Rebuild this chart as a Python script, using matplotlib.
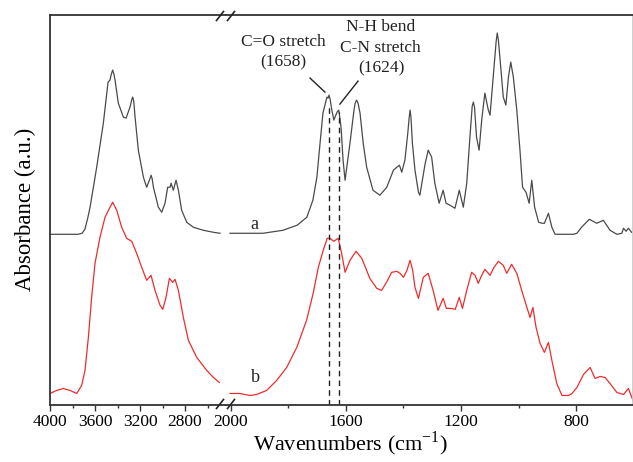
import matplotlib
matplotlib.use("Agg")
import matplotlib.pyplot as plt
from matplotlib.lines import Line2D

plt.rcParams['font.family'] = ['Liberation Serif', 'DejaVu Serif']
plt.rcParams['mathtext.fontset'] = 'custom'
plt.rcParams['mathtext.rm'] = 'Liberation Serif'

# spectrum a (black), high wavenumber part
a_hi_wn = [4000, 3750, 3715, 3690, 3665, 3644, 3585, 3526, 3484, 3467, 3455, 3443, 3432,
           3422, 3393, 3348, 3324, 3289, 3272, 3265, 3256, 3244, 3215, 3170, 3141, 3110,
           3102, 3093, 3081, 3037, 3007, 2978, 2954, 2933, 2924, 2904, 2880, 2859, 2830,
           2785, 2726, 2637, 2548, 2489]
a_hi_abs = [170, 170, 171, 175, 186, 197, 237, 281, 322, 324, 330, 334, 330,
            324, 301, 287, 286, 297, 305, 307, 303, 287, 254, 227, 217, 226,
            229, 226, 217, 197, 192, 201, 217, 217, 221, 214, 224, 214, 194,
            182, 177, 174, 172, 171]

# spectrum a (black), low wavenumber part
a_lo_wn = [2003, 1889, 1819, 1770, 1736, 1715, 1701, 1690, 1680, 1666, 1662, 1659, 1655,
           1649, 1642, 1631, 1625, 1617, 1610, 1603, 1586, 1572, 1568, 1563, 1558, 1551,
           1540, 1528, 1506, 1482, 1458, 1435, 1423, 1414, 1406, 1395, 1385, 1380, 1377,
           1374, 1369, 1360, 1348, 1343, 1325, 1314, 1302, 1291, 1276, 1262, 1252, 1238,
           1221, 1206, 1192, 1180, 1169, 1161, 1157, 1153, 1146, 1137, 1128, 1117, 1105,
           1099, 1088, 1078, 1074, 1070, 1064, 1053, 1044, 1035, 1027, 1018, 1006, 995,
           986, 974, 963, 954, 944, 930, 918, 910, 896, 884, 873, 809, 797, 781, 754,
           728, 705, 682, 658, 641, 635, 626, 618, 607]
a_lo_abs = [171, 171, 174, 179, 187, 204, 227, 261, 291, 307, 306, 309, 305,
            294, 284, 292, 294, 277, 244, 224, 261, 294, 301, 304, 301, 291,
            261, 237, 214, 209, 217, 234, 237, 239, 232, 244, 271, 287, 294,
            287, 261, 234, 212, 209, 240, 254, 247, 221, 201, 214, 201, 199,
            196, 214, 197, 221, 267, 298, 302, 297, 267, 254, 284, 311, 294,
            289, 327, 362, 371, 364, 344, 307, 299, 327, 342, 327, 294, 254,
            217, 212, 201, 224, 197, 182, 181, 181, 191, 177, 170, 170, 171,
            177, 185, 181, 184, 174, 170, 171, 176, 173, 176, 172]

# spectrum b (red), high wavenumber part
b_hi_wn = [4000, 3941, 3881, 3822, 3763, 3719, 3689, 3659, 3630, 3600, 3556, 3511, 3467,
           3443, 3407, 3363, 3319, 3274, 3230, 3185, 3141, 3102, 3067, 3022, 2998, 2969,
           2939, 2910, 2889, 2859, 2815, 2770, 2696, 2607, 2548, 2495]
b_hi_abs = [11, 14, 16, 14, 11, 19, 34, 67, 107, 141, 167, 187, 197,
            202, 194, 177, 166, 163, 151, 137, 124, 129, 114, 99, 95, 107,
            126, 122, 125, 114, 87, 64, 47, 34, 27, 22]

# spectrum b (red), low wavenumber part
b_lo_wn = [2003, 1969, 1934, 1911, 1876, 1841, 1806, 1771, 1737, 1714, 1696, 1679, 1665,
           1656, 1642, 1627, 1615, 1603, 1586, 1565, 1545, 1517, 1493, 1476, 1459, 1441,
           1423, 1412, 1400, 1388, 1377, 1368, 1360, 1348, 1331, 1314, 1297, 1280, 1262,
           1251, 1234, 1220, 1206, 1195, 1180, 1163, 1151, 1140, 1128, 1117, 1099, 1085,
           1070, 1053, 1041, 1024, 1006, 989, 971, 960, 950, 939, 925, 910, 896, 884,
           867, 849, 826, 814, 797, 774, 751, 734, 716, 699, 682, 658, 635, 618, 602]
b_lo_abs = [11, 11, 9, 10, 14, 24, 37, 57, 84, 111, 137, 154, 166,
            166, 163, 166, 151, 132, 144, 153, 146, 126, 116, 114, 122, 132,
            133, 131, 127, 134, 144, 134, 117, 106, 127, 131, 114, 94, 106,
            96, 96, 95, 107, 96, 114, 132, 129, 121, 129, 135, 129, 137,
            143, 139, 131, 140, 131, 114, 97, 87, 97, 77, 61, 52, 62, 44,
            21, 9, 9, 11, 17, 30, 37, 26, 28, 27, 21, 12, 10, 16, 4]

peak_wn = [1658, 1624]
peak_top = [297, 292]

major_hi = [4000, 3600, 3200, 2800]
minor_hi = [3800, 3400, 3000, 2600]
major_lo = [2000, 1600, 1200, 800]
minor_lo = [1800, 1400, 1000]

fig = plt.figure(figsize=(6.33, 4.62), dpi=100)
W, H = 633, 462
y0, y1 = 404.5, 15
ax1 = fig.add_axes([50 / W, (H - y0) / H, (226 - 50) / W, (y0 - y1) / H])
ax2 = fig.add_axes([226 / W, (H - y0) / H, (633 - 226) / W, (y0 - y1) / H])

black = '#4a4a4a'
red = '#ec2d2d'
ax1.plot(a_hi_wn, a_hi_abs, color=black, lw=0.9)
ax1.plot(b_hi_wn, b_hi_abs, color=red, lw=0.9)
ax2.plot(a_lo_wn, a_lo_abs, color=black, lw=0.9)
ax2.plot(b_lo_wn, b_lo_abs, color=red, lw=0.9)

ax1.set_xlim(4000, 2436)
ax2.set_xlim(2017, 602)
for ax in (ax1, ax2):
    ax.set_ylim(0, 389)
    ax.set_yticks([])
    ax.tick_params(axis='x', direction='out', length=4, width=1, labelsize=12.5,
                   color='#333333', pad=3)
    ax.tick_params(axis='x', which='minor', direction='out', length=2.5, width=1,
                   color='#333333')
    for s in ax.spines.values():
        s.set_linewidth(1.3)
        s.set_color('#333333')

ax1.set_xticks(major_hi)
ax1.set_xticks(minor_hi, minor=True)
ax2.set_xticks(major_lo)
ax2.set_xticks(minor_lo, minor=True)
ax1.spines['right'].set_visible(False)
ax2.spines['left'].set_visible(False)
ax2.spines['right'].set_color('#cccccc')

ax1.set_ylabel('Absorbance (a.u.)', fontsize=16.5, labelpad=10)
fig.text(350 / W, 1 - 444 / H, 'Wavenumbers (cm$^{\\mathregular{-1}}$)', fontsize=16,
         ha='center', va='center')

# dashed markers for the amide peaks
for wn, top in zip(peak_wn, peak_top):
    ax2.plot([wn, wn], [0, top], color='#222222', lw=1, ls=(0, (4, 3)))

# annotations
ax2.text(1816, 362, 'C=O stretch', fontsize=12.5, ha='center', va='center', color='#222222')
ax2.text(1819, 342, '(1658)', fontsize=12.5, ha='center', va='center', color='#222222')
ax2.text(1478, 377, 'N-H bend', fontsize=12.5, ha='center', va='center', color='#222222')
ax2.text(1482, 356, 'C-N stretch', fontsize=12.5, ha='center', va='center', color='#222222')
ax2.text(1475, 336, '(1624)', fontsize=12.5, ha='center', va='center', color='#222222')
ax2.plot([1725, 1673], [326, 312], color='#222222', lw=1)
ax2.plot([1558, 1621], [323, 300], color='#222222', lw=1)

ax2.text(1920, 180, 'a', fontsize=13, ha='center', va='center', color='#222222')
ax2.text(1913, 27, 'b', fontsize=13, ha='center', va='center', color='#222222')

# axis break marks
for yb in (404, 16):
    for xb in (220, 231):
        fig.add_artist(Line2D([(xb - 3.5) / W, (xb + 3.5) / W],
                              [1 - (yb + 4.5) / H, 1 - (yb - 4.5) / H],
                              color='#222222', lw=1.2))

fig.savefig('out.png', dpi=100)
